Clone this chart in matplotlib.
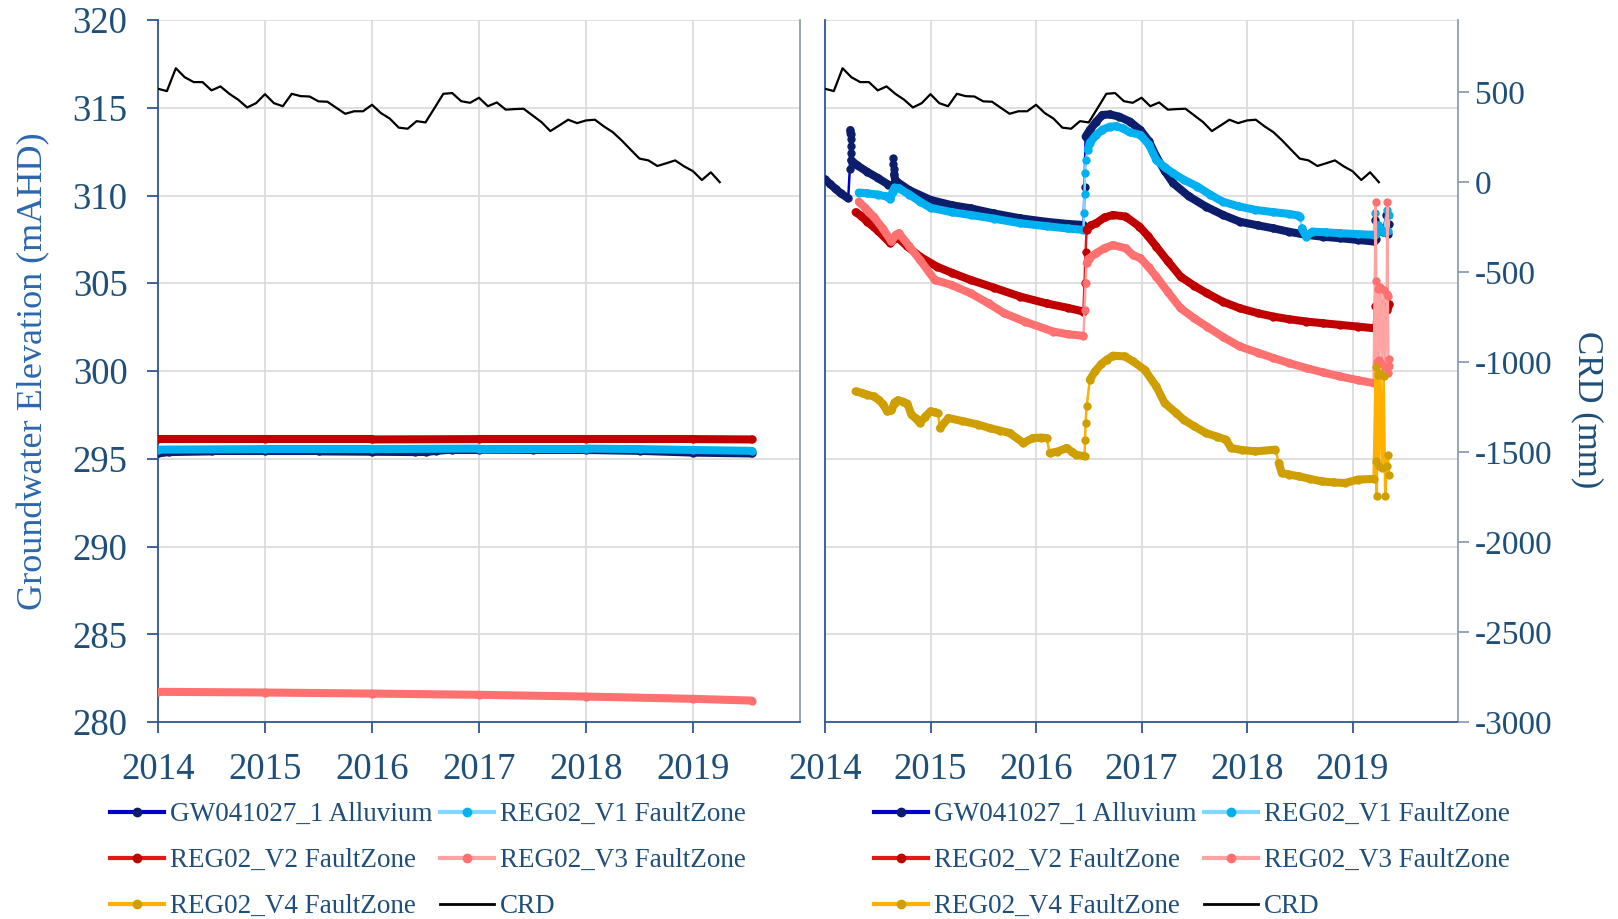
"""Groundwater elevation vs CRD, two-panel logger chart."""
import matplotlib
matplotlib.use("Agg")
import matplotlib.pyplot as plt
from matplotlib.collections import LineCollection
from matplotlib.lines import Line2D
import numpy as np

plt.rcParams["font.family"] = ["Liberation Serif", "DejaVu Serif"]
plt.rcParams["axes.unicode_minus"] = False

TICK_BLUE = "#1F4E79"
LABEL_BLUE = "#2A67AE"
SPINE_BLUE = "#2F5597"
SPINE_GREY = "#8D9DBA"
GRID = "#D9D9D9"

# ---- series names / colours (line colour, marker colour) ----
NAMES = ["GW041027_1 Alluvium", "REG02_V1 FaultZone", "REG02_V2 FaultZone",
         "REG02_V3 FaultZone", "REG02_V4 FaultZone", "CRD"]
LINE_C = ["#0000CC", "#80D8FF", "#E01A1A", "#FFA3A3", "#FFB000", "black"]
MARK_C = ["#0C1E6B", "#00B0F0", "#C00000", "#FF7070", "#CF9E00", "black"]

# ---- CRD (mm), monthly from Jan 2014 ----
CRD = [518, 505, 632, 582, 555, 555, 509, 531, 490, 457, 414, 438,
       488, 438, 421, 490, 477, 475, 448, 446, 412, 379, 393, 393,
       429, 383, 352, 302, 296, 338, 331, 410, 490, 494, 449, 440,
       468, 421, 442, 402, 405, 407, 370, 333, 283, 314, 346, 327,
       342, 346, 309, 277, 231, 180, 130, 120, 89, 104, 120, 87,
       60, 11, 54, -1]

# ---- left panel loggers (mAHD) ----
GW_L_YR = [2014.0, 2014.1, 2014.5, 2015.0, 2015.5, 2016.0, 2016.4, 2016.5, 2016.6,
           2016.75, 2017.0, 2017.5, 2018.0, 2018.5, 2019.0, 2019.55]
GW_L = [295.3, 295.38, 295.42, 295.42, 295.42, 295.4, 295.38, 295.38, 295.45,
        295.52, 295.52, 295.5, 295.5, 295.45, 295.35, 295.3]
V1_L_YR = [2014.0, 2015.0, 2016.0, 2017.0, 2018.0, 2018.5, 2019.0, 2019.55]
V1_L = [295.52, 295.55, 295.55, 295.58, 295.58, 295.55, 295.5, 295.45]
V2_L_YR = [2014.0, 2015.0, 2016.0, 2017.0, 2018.0, 2019.0, 2019.55]
V2_L = [296.1, 296.1, 296.1, 296.12, 296.12, 296.12, 296.1]
V3_L_YR = [2014.0, 2015.0, 2016.0, 2017.0, 2018.0, 2019.0, 2019.55]
V3_L = [281.72, 281.68, 281.62, 281.55, 281.45, 281.32, 281.22]

# ---- right panel loggers (mAHD) ----
GW_R_YR = [2014.00, 2014.05, 2014.10, 2014.15, 2014.22, 2014.235, 2014.24, 2014.242,
           2014.244, 2014.246, 2014.248, 2014.25, 2014.30, 2014.40, 2014.50, 2014.60,
           2014.64, 2014.645, 2014.648, 2014.651, 2014.655, 2014.665, 2014.68, 2014.80,
           2015.00, 2015.20, 2015.38, 2015.60, 2015.85, 2016.10, 2016.30, 2016.45,
           2016.46, 2016.47, 2016.51, 2016.57, 2016.63, 2016.70, 2016.79, 2016.89,
           2016.99, 2017.07, 2017.14, 2017.22, 2017.30, 2017.45, 2017.61, 2017.77,
           2017.93, 2018.10, 2018.25, 2018.40, 2018.56, 2018.72, 2018.88, 2019.05,
           2019.20,
           2019.215, 2019.225, 2019.24, 2019.29, 2019.32, 2019.335, 2019.35]
GW_R = [310.92, 310.65, 310.38, 310.12, 309.84, 311.5, 313.73, 313.5,
        313.2, 312.8, 312.4, 312.0, 311.74, 311.35, 311.0, 310.62,
        310.54, 312.12, 311.8, 311.5, 311.2, 310.9, 310.79, 310.3,
        309.75, 309.45, 309.27, 308.98, 308.7, 308.5, 308.38, 308.32,
        310.5, 313.35, 313.73, 314.2, 314.59, 314.62, 314.49, 314.21,
        313.73, 313.1, 312.22, 311.4, 310.7, 309.95, 309.37, 308.9,
        308.51, 308.3, 308.13, 307.93, 307.76, 307.65, 307.57, 307.47,
        307.38,
        308.6, 307.5, 308.3, 307.9, 308.9, 307.8, 308.4]
V1_R_YR = [2014.32, 2014.40, 2014.50, 2014.58, 2014.62, 2014.64, 2014.66, 2014.70,
           2014.80, 2014.90, 2015.00, 2015.20, 2015.38, 2015.60, 2015.85, 2016.10,
           2016.30, 2016.45, 2016.455, 2016.46, 2016.465, 2016.47, 2016.49, 2016.51,
           2016.57, 2016.63, 2016.70, 2016.76, 2016.82, 2016.89, 2016.99, 2017.07,
           2017.14, 2017.22, 2017.30, 2017.40, 2017.53, 2017.65, 2017.77, 2017.92,
           2018.08, 2018.25, 2018.40, 2018.49, 2018.50, 2018.52, 2018.56, 2018.62,
           2018.75, 2018.88, 2019.05, 2019.20,
           2019.215, 2019.225, 2019.24, 2019.30, 2019.325, 2019.34, 2019.35]
V1_R = [310.17, 310.12, 310.05, 309.95, 309.8, 310.2, 310.45, 310.41,
        310.05, 309.65, 309.3, 309.05, 308.89, 308.68, 308.42, 308.25,
        308.12, 308.04, 309.0, 310.1, 311.3, 312.0, 312.6, 313.0,
        313.45, 313.75, 313.92, 313.95, 313.83, 313.6, 313.45, 312.9,
        312.03, 311.6, 311.27, 310.9, 310.51, 310.05, 309.65, 309.38,
        309.18, 309.05, 308.95, 308.85, 308.8, 308.13, 307.66, 307.94,
        307.9, 307.85, 307.8, 307.76,
        309.0, 307.8, 308.3, 307.9, 309.2, 308.0, 308.9]
V2_R_YR = [2014.29, 2014.34, 2014.40, 2014.50, 2014.62, 2014.65, 2014.68, 2014.78,
           2014.90, 2015.06, 2015.20, 2015.38, 2015.60, 2015.85, 2016.10, 2016.30,
           2016.45, 2016.46, 2016.47, 2016.48, 2016.52, 2016.57, 2016.65, 2016.73,
           2016.85, 2016.98, 2017.06, 2017.14, 2017.25, 2017.37, 2017.50, 2017.62,
           2017.77, 2017.93, 2018.10, 2018.25, 2018.40, 2018.56, 2018.72, 2018.88,
           2019.05, 2019.20,
           2019.215, 2019.23, 2019.25, 2019.33, 2019.35]
V2_R = [309.05, 308.85, 308.51, 308.0, 307.28, 307.5, 307.66, 307.1,
        306.52, 305.95, 305.6, 305.19, 304.75, 304.24, 303.85, 303.6,
        303.39, 305.0, 306.8, 308.04, 308.3, 308.42, 308.75, 308.89,
        308.8, 308.23, 307.7, 307.09, 306.25, 305.38, 304.85, 304.43,
        303.95, 303.58, 303.3, 303.1, 302.95, 302.82, 302.72, 302.63,
        302.53, 302.44,
        303.7, 303.2, 303.9, 303.5, 303.8]
V3_R_YR = [2014.32, 2014.38, 2014.46, 2014.55, 2014.63, 2014.67, 2014.70, 2014.80,
           2014.90, 2015.04, 2015.20, 2015.38, 2015.55, 2015.70, 2015.90, 2016.16,
           2016.30, 2016.45, 2016.46, 2016.47, 2016.48, 2016.50, 2016.57, 2016.65,
           2016.73, 2016.85, 2016.92, 2016.99, 2017.07, 2017.14, 2017.25, 2017.37,
           2017.50, 2017.62, 2017.77, 2017.93, 2018.10, 2018.25, 2018.40, 2018.56,
           2018.72, 2018.88, 2019.05, 2019.20,
           2019.22, 2019.225, 2019.23, 2019.24, 2019.25, 2019.265, 2019.28, 2019.295,
           2019.31, 2019.325, 2019.33, 2019.335, 2019.34, 2019.345, 2019.35]
V3_R = [309.65, 309.3, 308.8, 308.1, 307.38, 307.75, 307.85, 307.1,
        306.33, 305.19, 304.9, 304.43, 303.85, 303.29, 302.8, 302.25,
        302.1, 302.0, 303.5, 305.0, 306.14, 306.4, 306.71, 307.0,
        307.18, 306.99, 306.6, 306.43, 305.9, 305.38, 304.5, 303.58,
        303.0, 302.53, 301.95, 301.4, 301.05, 300.74, 300.45, 300.17,
        299.92, 299.69, 299.48, 299.31,
        309.65, 305.1, 300.5, 304.7, 300.6, 304.8, 300.4, 304.6,
        300.2, 304.4, 309.65, 304.3, 299.9, 300.7, 300.3]
V4_R_YR = [2014.29, 2014.35, 2014.40, 2014.46, 2014.51, 2014.55, 2014.59, 2014.63,
           2014.66, 2014.69, 2014.74, 2014.78, 2014.82, 2014.86, 2014.90, 2014.95,
           2015.00, 2015.04, 2015.07, 2015.09, 2015.17, 2015.30, 2015.45, 2015.56,
           2015.66, 2015.75, 2015.88, 2015.97, 2016.05, 2016.10, 2016.13, 2016.20,
           2016.29, 2016.34, 2016.38, 2016.46, 2016.465, 2016.47, 2016.48, 2016.51,
           2016.56, 2016.62, 2016.67, 2016.73, 2016.84, 2016.92, 2017.03, 2017.14,
           2017.22, 2017.33, 2017.40, 2017.50, 2017.61, 2017.72, 2017.80, 2017.85,
           2017.95, 2018.08, 2018.27, 2018.30, 2018.33, 2018.40, 2018.49, 2018.60,
           2018.71, 2018.82, 2018.93, 2019.05, 2019.20,
           2019.22, 2019.225, 2019.23, 2019.24, 2019.25, 2019.265, 2019.28, 2019.295,
           2019.31, 2019.325, 2019.335, 2019.345]
V4_R = [298.84, 298.75, 298.65, 298.55, 298.36, 298.1, 297.7, 297.75,
        298.2, 298.33, 298.25, 298.14, 297.51, 297.3, 297.03, 297.4,
        297.7, 297.65, 297.6, 296.75, 297.32, 297.15, 296.95, 296.75,
        296.6, 296.47, 295.9, 296.18, 296.2, 296.18, 295.33, 295.4,
        295.61, 295.4, 295.23, 295.14, 296.09, 297.03, 297.98, 299.5,
        299.98, 300.4, 300.64, 300.87, 300.83, 300.55, 300.07, 299.12,
        298.17, 297.6, 297.22, 296.85, 296.47, 296.25, 296.09, 295.61,
        295.5, 295.42, 295.52, 294.76, 294.19, 294.1, 294.0, 293.85,
        293.71, 293.65, 293.62, 293.81, 293.85,
        300.2, 294.9, 292.9, 299.8, 294.6, 299.9, 294.5, 299.7,
        292.9, 294.6, 295.2, 294.1]

YEARS = [2014, 2015, 2016, 2017, 2018, 2019]
ELEV_TICKS = [280, 285, 290, 295, 300, 305, 310, 315, 320]
CRD_TICKS = [-3000, -2500, -2000, -1500, -1000, -500, 0, 500]


def draw_logger(ax, x, y, line_c, mark_c, z):
    """Dense logger record: fat band where readings are packed, thin line on jumps."""
    x = np.asarray(x, float)
    y = np.asarray(y, float)
    ax.plot(x, y, color=line_c, lw=1.8, zorder=z)
    xy = np.column_stack([x, y])
    d = np.diff(ax.transData.transform(xy), axis=0)
    packed = np.abs(d[:, 1]) < 2.5 * np.abs(d[:, 0]) + 4
    segs = np.stack([xy[:-1], xy[1:]], axis=1)[packed]
    ax.add_collection(LineCollection(segs, colors=mark_c, linewidths=5.8,
                                     capstyle="round", joinstyle="round", zorder=z))
    ax.plot(x, y, ls="none", marker="o", ms=5, color=mark_c, zorder=z)


def style_panel(ax, left_labels):
    ax.set_xlim(2014, 2020)
    ax.set_ylim(280, 320)
    ax.set_xticks(YEARS)
    ax.set_yticks(ELEV_TICKS)
    ax.set_axisbelow(True)
    ax.grid(True, color=GRID, lw=1.2)
    ax.spines["top"].set_visible(False)
    ax.spines["left"].set_color(SPINE_BLUE)
    ax.spines["bottom"].set_color(SPINE_BLUE)
    ax.spines["right"].set_color(SPINE_GREY)
    for s in ("left", "bottom", "right"):
        ax.spines[s].set_linewidth(1.3)
    ax.tick_params(axis="x", direction="out", length=8, width=1.3, color=SPINE_BLUE,
                   labelsize=26.5, labelcolor=TICK_BLUE, pad=14)
    if left_labels:
        ax.tick_params(axis="y", direction="out", length=8, width=1.3, color=SPINE_BLUE,
                       labelsize=26.5, labelcolor=TICK_BLUE, pad=14)
    else:
        ax.tick_params(axis="y", length=0, labelleft=False)


fig = plt.figure(figsize=(16.18, 9.19), dpi=100)
W, H = 1618, 919
ax1 = fig.add_axes([158 / W, 1 - 722 / H, 642 / W, 702 / H])
ax2 = fig.add_axes([825 / W, 1 - 722 / H, 633 / W, 702 / H])
style_panel(ax1, True)
style_panel(ax2, False)

ax1.set_ylabel("Groundwater Elevation (mAHD)", fontsize=26, color=LABEL_BLUE)
ax1.yaxis.set_label_coords(-0.168, 0.5)

# left panel
draw_logger(ax1, GW_L_YR, GW_L, LINE_C[0], MARK_C[0], 3)
draw_logger(ax1, V1_L_YR, V1_L, LINE_C[1], MARK_C[1], 4)
draw_logger(ax1, V2_L_YR, V2_L, LINE_C[2], MARK_C[2], 5)
draw_logger(ax1, V3_L_YR, V3_L, LINE_C[3], MARK_C[3], 6)

# right panel
draw_logger(ax2, GW_R_YR, GW_R, LINE_C[0], MARK_C[0], 3)
draw_logger(ax2, V1_R_YR, V1_R, LINE_C[1], MARK_C[1], 4)
draw_logger(ax2, V2_R_YR, V2_R, LINE_C[2], MARK_C[2], 5)
draw_logger(ax2, V3_R_YR, V3_R, LINE_C[3], MARK_C[3], 6)
draw_logger(ax2, V4_R_YR, V4_R, LINE_C[4], MARK_C[4], 7)

# CRD on secondary axes (same scale in both panels)
crd_years = 2014 + np.arange(len(CRD)) / 12
for ax, show in ((ax1, False), (ax2, True)):
    tw = ax.twinx()
    tw.set_ylim(-3000, 900)
    tw.plot(crd_years, CRD, color="black", lw=1.6, zorder=8)
    for s in tw.spines.values():
        s.set_visible(False)
    if show:
        tw.set_yticks(CRD_TICKS)
        tw.tick_params(axis="y", direction="out", length=8, width=1.3, color=SPINE_GREY,
                       labelsize=24, labelcolor=TICK_BLUE, pad=4)
        tw.set_ylabel("CRD (mm)", fontsize=25, color=TICK_BLUE, rotation=270)
        tw.yaxis.set_label_coords(1.23, 0.445)
    else:
        tw.set_yticks([])

# legends
handles = [Line2D([], [], color=LINE_C[i], lw=3, marker="o", ms=6,
                  mfc=MARK_C[i], mec=MARK_C[i]) for i in range(5)]
handles.append(Line2D([], [], color="black", lw=2))
order = [0, 2, 4, 1, 3, 5]
for x0 in (110, 874):
    fig.legend([handles[i] for i in order], [NAMES[i] for i in order],
               loc="upper left", bbox_to_anchor=(x0 / W, 1 - 802 / H), ncol=2,
               frameon=False, fontsize=19.5, labelcolor=TICK_BLUE,
               handlelength=2.0, handletextpad=0.2, columnspacing=0.3,
               labelspacing=0.78, borderpad=0, borderaxespad=0)

fig.savefig("out.png", dpi=100, facecolor="white")
